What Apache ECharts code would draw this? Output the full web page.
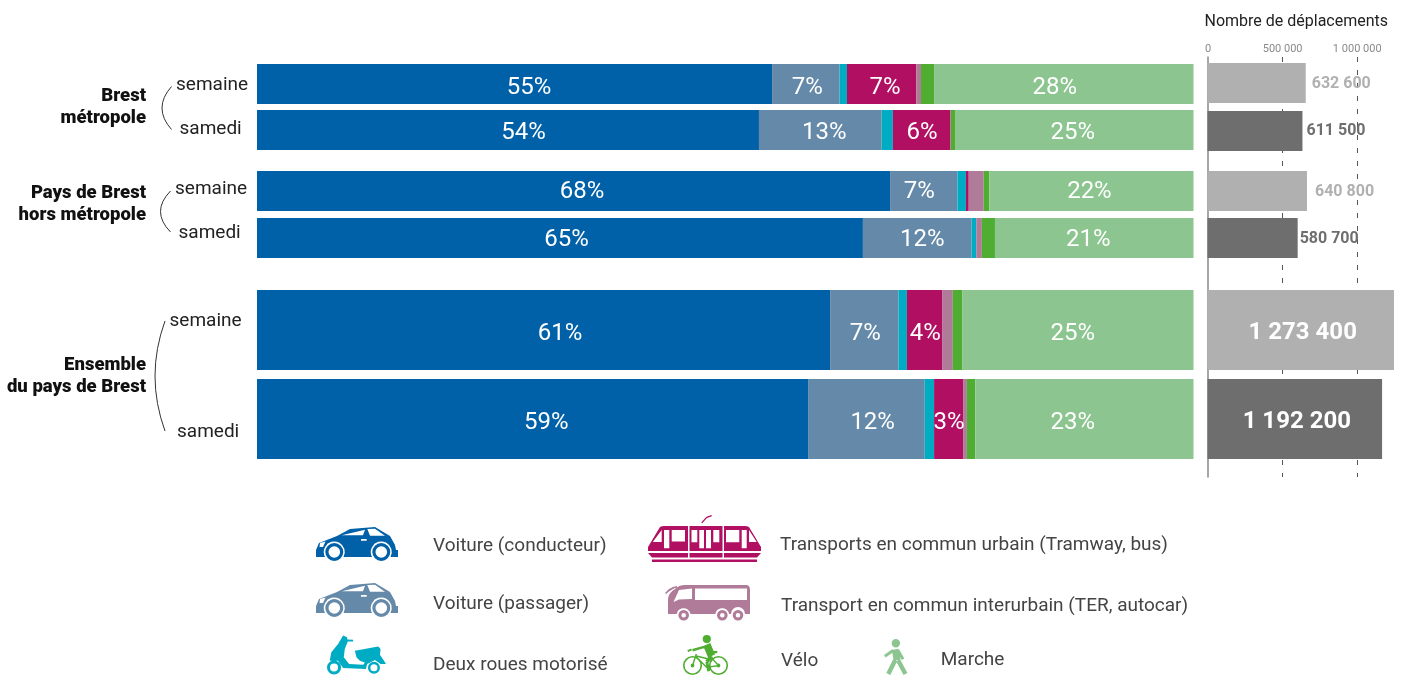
<!DOCTYPE html>
<html>
<head>
<meta charset="utf-8">
<script src="https://cdn.jsdelivr.net/npm/echarts@6/dist/echarts.min.js"></script>
<style>
  html, body { margin: 0; background: #fff; }
  #main { width: 1403px; height: 675px; }
</style>
</head>
<body>
<div id="main"></div>
<script>
// one value per row, top to bottom (% of trips)
const days = ["semaine", "samedi"];
const voitureConducteur = [55.0, 53.6, 67.6, 64.7, 61.2, 58.9];
const voiturePassager = [7.2, 13.1, 7.2, 11.6, 7.3, 12.4];
const deuxRoues = [0.8, 1.2, 0.9, 0.5, 0.9, 1.0];
const tcUrbain = [7.4, 6.1, 0.3, 0, 3.8, 3.1];
const tcInterurbain = [0.5, 0.1, 1.6, 0.6, 1.1, 0.4];
const velo = [1.4, 0.5, 0.6, 1.4, 1.0, 0.9];
const marche = [27.7, 25.4, 21.8, 21.2, 24.7, 23.3];
const deplacements = [632600, 611500, 640800, 580700, 1273400, 1192200];

const FONT = "Roboto";

// small shape helpers for the legend pictos
// every shape goes clockwise, holes go the other way
function circle(cx, cy, r, hole) {
  const s = hole ? 0 : 1;
  return `M${cx + r} ${cy}A${r} ${r} 0 1 ${s} ${cx - r} ${cy}A${r} ${r} 0 1 ${s} ${cx + r} ${cy}Z`;
}
function ring(cx, cy, r1, r2) {
  return circle(cx, cy, r1) + circle(cx, cy, r2, true);
}
function bar(x1, y1, x2, y2, w) {
  const len = Math.hypot(x2 - x1, y2 - y1);
  const nx = ((y2 - y1) / len) * (w / 2);
  const ny = (-(x2 - x1) / len) * (w / 2);
  return `M${x1 + nx} ${y1 + ny}L${x2 + nx} ${y2 + ny}L${x2 - nx} ${y2 - ny}L${x1 - nx} ${y1 - ny}Z`;
}
function hole(x1, y1, x2, y2) {
  return `M${x1} ${y1}L${x1} ${y2}L${x2} ${y2}L${x2} ${y1}Z`;
}

const carIcon =
  "path://M0 30L0 23L3 16L21 9L34 2L59 0L74 9L79 18L80 23L82 23L82 30L74.5 30A10.5 10.5 0 1 0 56.1 30L27.5 30A10.5 10.5 0 1 0 9.1 30Z" +
  "M25.7 8.3L47 8.3L49 2.7ZM51.3 2L54 8.7L69 8.7L59 1.7Z" +
  hole(45, 12, 50.7, 13.7) +
  "M4 16L3.5 20L7 20L9.5 14.5Z" +
  ring(18.3, 25, 9, 5.8) +
  ring(65.3, 25, 9, 5.8);

const tramIcon =
  "path://M0 36L0 32L12 12Q14 11 16 11L40 11L40 36Z" +
  "M4.7 27L13.7 27L13.7 15Z" +
  hole(16, 15, 21.3, 33.3) +
  hole(23.7, 15, 37, 26.7) +
  "M41.5 11L74.5 11L74.5 36L41.5 36Z" +
  hole(43.5, 15, 49.3, 27.3) +
  hole(51.3, 15, 56, 33.3) +
  hole(58, 15, 63, 33.3) +
  hole(65.3, 15, 71.3, 27.3) +
  "M76 11L97 11Q99 11 101 12L113 32L113 36L76 36Z" +
  hole(78, 15, 91.3, 27.3) +
  hole(93.7, 15, 98.7, 33.3) +
  "M101 15L101 27L108.7 27Z" +
  "M0 38L40 38L40 42.5L4 42.5ZM41.5 38L74.5 38L74.5 42.5L41.5 42.5ZM76 38L113 38L109 42.5L76 42.5Z" +
  "M4 44.5L109 44.5L109 47L4 47Z" +
  bar(53.7, 8, 58.7, 2.5, 1.3) +
  bar(58.7, 2.5, 63.7, 0.7, 1.3);

const busIcon =
  "path://M3 29L3 15Q3 8 10 4Q14 0 20 0L81 0Q85 0 85 5L85 29L80 29A7 7 0 0 0 66 29L64.2 29A7 7 0 0 0 50.4 29L25.6 29A7 7 0 0 0 11.8 29Z" +
  "M0 8L4 4Q8 1.5 12 1L12 2.5Q7 3.5 1 9Z" +
  "M8.5 17L14 14.5L27 14L27 3.5L14 5Z" +
  hole(30, 3.5, 82, 15) +
  ring(18.7, 30.3, 5.3, 2.3) +
  ring(57.3, 30.3, 5.3, 2.3) +
  ring(73, 30.3, 5.3, 2.3);

const scooterIcon =
  "path://M16 0L20 1.7L20.3 4L26 4.3L26 6L20.7 6L17.7 13.3L16.7 21.7L22 28.3L36 29L37.7 26.7L32.7 25L29.3 21.7L27.7 15L51 11L53.3 13.3L52.7 19L56.7 25L58.7 28.3L53.3 28.3L47.7 24.3L40 28.3L38.7 33.3L16 32.3L11 25L2.7 25L4.3 16.7L11 8.3Z" +
  ring(7, 31.7, 7, 4) +
  ring(46.7, 32, 6, 3.5);

const bikeIcon =
  "path://" +
  circle(25, 4.3, 4.3) +
  bar(25, 10, 30, 22, 8) +
  bar(24, 12, 10, 16, 2.5) +
  bar(9, 15, 5, 17, 2) +
  bar(30, 22, 25, 28, 4) +
  bar(25, 28, 27, 38, 3) +
  bar(28, 18, 36, 18, 2.5) +
  bar(10, 32, 14, 20, 1.5) +
  bar(14, 22, 30, 26, 1.5) +
  bar(14, 23, 25, 34, 1.5) +
  bar(25, 34, 37.3, 32, 1.5) +
  bar(30, 24, 37.3, 32, 1.5) +
  ring(10, 32, 10, 8.3) +
  ring(37.3, 32, 10, 8.3) +
  circle(10, 32, 2) +
  circle(37.3, 32, 2);

const walkerIcon =
  "path://" +
  circle(12.7, 4.7, 4.3) +
  bar(12, 11, 14, 22, 7) +
  bar(10, 12, 1.5, 18, 3) +
  bar(15, 12, 20, 21, 3) +
  bar(12, 22, 5, 36, 4.5) +
  bar(15, 22, 22.5, 36, 4.5);

// box = left, top, width, height of the picto; gap = extra space before the text; drop = text lower than picto centre
const modes = [
  { name: "Voiture (conducteur)", values: voitureConducteur, color: "#0060a8", icon: carIcon, box: [316, 527, 82, 34], gap: 30, drop: 2 },
  { name: "Voiture (passager)", values: voiturePassager, color: "#6589a8", icon: carIcon, box: [316, 583, 82, 34], gap: 30, drop: 4 },
  { name: "Deux roues motorisé", values: deuxRoues, color: "#00acc4", icon: scooterIcon, box: [327, 635, 59, 39], gap: 42, drop: 10 },
  { name: "Transports en commun urbain (Tramway, bus)", values: tcUrbain, color: "#b10f62", icon: tramIcon, box: [648, 515, 113, 47], gap: 14, drop: 7 },
  { name: "Transport en commun interurbain (TER, autocar)", values: tcInterurbain, color: "#b07b98", icon: busIcon, box: [665, 585, 85, 36], gap: 26, drop: 3 },
  { name: "Vélo", values: velo, color: "#4fad32", icon: bikeIcon, box: [683, 635, 47, 40], gap: 47, drop: 6 },
  { name: "Marche", values: marche, color: "#8cc58f", icon: walkerIcon, box: [884, 639, 24, 36], gap: 28, drop: 3 },
];

// where each group of two rows sits
const groupsLeft = [
  { top: 61, height: 92, barWidth: 40, rows: [0, 1] },
  { top: 167.5, height: 94, barWidth: 40, rows: [2, 3] },
  { top: 285.5, height: 178, barWidth: 80, rows: [4, 5] },
];
const groupsRight = [
  { top: 59, height: 96, barWidth: 40, rows: [0, 1], max: 1259000 },
  { top: 167.5, height: 94, barWidth: 40, rows: [2, 3], max: 1259000 },
  { top: 285.5, height: 178, barWidth: 80, rows: [4, 5], max: 1335000 },
];

// label nudges, the source doesn't centre them exactly
const labelDx = {
  "Voiture (conducteur)": [14.5, 15.5, 8.5, 6.5, 16.5, 13.5],
  "Voiture (passager)": [1.5, 4, -4.5, 5, 1, 6],
  "Transports en commun urbain (Tramway, bus)": [3.5, 0.5, 0, 0, 0.5, 0.5],
  "Marche": [-9, -1.7, -2, -6, -5, -11.5],
};
const labelDy = [3.5, 3, 1, 2, 3.5, 3.5];
const totalNudge = [[6, 0.5], [4, -0.5], [8, 1], [2, 1], [2, 3], [2, 3]];

const grids = [];
const xAxes = [];
const yAxes = [];
const series = [];

groupsLeft.forEach((g) => {
  const idx = grids.length;
  grids.push({ left: 257, width: 936.5, top: g.top, height: g.height });
  xAxes.push({ gridIndex: idx, type: "value", min: 0, max: 100, show: false });
  yAxes.push({ gridIndex: idx, type: "category", data: days, inverse: true, show: false });
  modes.forEach((m) => {
    series.push({
      name: m.name,
      type: "bar",
      stack: "g" + idx,
      xAxisIndex: idx,
      yAxisIndex: idx,
      barWidth: g.barWidth,
      itemStyle: { color: m.color },
      label: {
        show: true,
        position: "inside",
        color: "#fff",
        fontFamily: FONT,
        fontSize: 24,
        formatter: (p) => Math.round(p.value) + "%",
      },
      data: g.rows.map((r) => ({
        value: m.values[r],
        label: {
          show: m.values[r] >= 3,
          offset: [labelDx[m.name] ? labelDx[m.name][r] : 0, labelDy[r]],
        },
      })),
    });
  });
});

// the axis of the right panel has its own grid, behind the bars
const axisIdx = grids.length;
grids.push({ left: 1208, width: 194, top: 57, height: 420 });
xAxes.push({
  gridIndex: axisIdx,
  type: "value",
  position: "top",
  min: 0,
  max: 1300000,
  interval: 500000,
  axisLine: { show: false },
  axisTick: { show: false },
  axisLabel: {
    showMaxLabel: false,
    margin: 2,
    color: "#8a8a8a",
    fontFamily: FONT,
    fontSize: 11,
    formatter: (v) => String(v).replace(/\B(?=(\d{3})+$)/g, " "),
  },
  splitLine: {
    showMinLine: false,
    showMaxLine: false,
    lineStyle: { color: "#555", type: [5, 8], width: 1 },
  },
});
yAxes.push({
  gridIndex: axisIdx,
  type: "category",
  data: [""],
  axisTick: { show: false },
  axisLabel: { show: false },
  axisLine: { lineStyle: { color: "#888", width: 1.5 } },
});

groupsRight.forEach((g) => {
  const idx = grids.length;
  grids.push({ left: 1207.5, width: 195.5, top: g.top, height: g.height });
  xAxes.push({ gridIndex: idx, type: "value", min: 0, max: g.max, show: false });
  yAxes.push({ gridIndex: idx, type: "category", data: days, inverse: true, show: false });
  const big = g.barWidth > 40;
  series.push({
    name: "Nombre de déplacements",
    type: "bar",
    xAxisIndex: idx,
    yAxisIndex: idx,
    barWidth: g.barWidth,
    data: g.rows.map((r, i) => {
      const col = i === 0 ? "#b0b0b0" : "#6e6e6e";
      return {
        value: deplacements[r],
        itemStyle: { color: col },
        label: {
          show: true,
          position: big ? "inside" : "right",
          distance: 0,
          offset: totalNudge[r],
          color: big ? "#fff" : col,
          fontFamily: FONT,
          fontWeight: "bold",
          fontSize: big ? 24 : 16,
          formatter: (p) => String(p.value).replace(/\B(?=(\d{3})+$)/g, " "),
        },
      };
    }),
  });
});

// a blank first line pushes the name down by lineHeight / 2
const legends = modes.map((m) => ({
  left: m.box[0],
  top: m.box[1],
  padding: 0,
  selectedMode: false,
  itemWidth: m.box[2],
  itemHeight: m.box[3],
  data: [{ name: m.name, icon: m.icon }],
  formatter: (name) => "\n" + name,
  textStyle: {
    fontFamily: FONT,
    fontSize: 19,
    color: "#444",
    lineHeight: m.drop * 2,
    padding: [0, 0, 0, m.gap],
  },
}));

function text(str, x, y, align, size, weight, color) {
  return {
    type: "text",
    x: x,
    y: y,
    style: {
      text: str,
      align: align,
      verticalAlign: "middle",
      fontFamily: FONT,
      fontSize: size,
      fontWeight: weight,
      fill: color,
    },
  };
}
function bracket(x1, y1, midX, x2, y2) {
  const cx = 2 * midX - x1;
  const cy = (y1 + y2) / 2;
  return {
    type: "bezierCurve",
    shape: { x1: x1, y1: y1, x2: x2, y2: y2, cpx1: cx, cpy1: cy },
    style: { stroke: "#333", lineWidth: 1, fill: "none" },
  };
}

const graphics = [
  text("Nombre de déplacements", 1204.5, 22, "left", 16, "normal", "#222"),
  text("Brest", 146, 96, "right", 18.5, 900, "#111"),
  text("métropole", 146, 118, "right", 18.5, 900, "#111"),
  text("Pays de Brest", 146, 193, "right", 18.5, 900, "#111"),
  text("hors métropole", 146, 215, "right", 18.5, 900, "#111"),
  text("Ensemble", 146, 365, "right", 18.5, 900, "#111"),
  text("du pays de Brest", 146, 387, "right", 18.5, 900, "#111"),
  text("semaine", 176, 85, "left", 19, "normal", "#222"),
  text("samedi", 179.5, 129, "left", 19, "normal", "#222"),
  text("semaine", 175, 189, "left", 19, "normal", "#222"),
  text("samedi", 178.5, 233, "left", 19, "normal", "#222"),
  text("semaine", 169.5, 321, "left", 19, "normal", "#222"),
  text("samedi", 177, 432, "left", 19, "normal", "#222"),
  bracket(171.5, 86.5, 162, 171.5, 129.5),
  bracket(170.5, 191, 160.5, 170.5, 232),
  bracket(165, 321, 155, 165, 431),
];

const chart = echarts.init(document.getElementById("main"));
chart.setOption({
  animation: false,
  backgroundColor: "#fff",
  grid: grids,
  xAxis: xAxes,
  yAxis: yAxes,
  legend: legends,
  series: series,
  graphic: { elements: graphics },
});
window.addEventListener("resize", () => chart.resize());
</script>
</body>
</html>
